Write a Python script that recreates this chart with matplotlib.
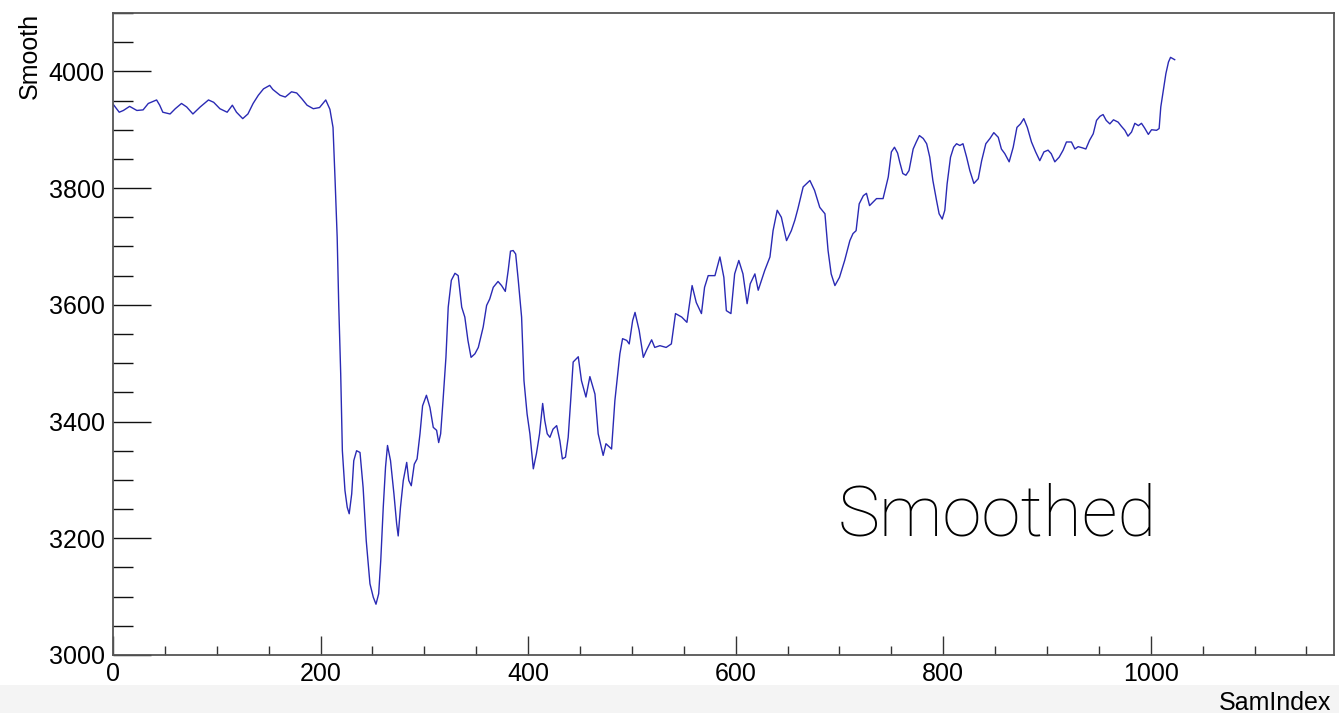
import matplotlib
matplotlib.use("Agg")
import matplotlib.pyplot as plt
from matplotlib.ticker import MultipleLocator
from matplotlib.patches import Rectangle

plt.rcParams['font.family'] = ['Liberation Sans', 'DejaVu Sans']

sam_index = [
    0, 6, 10, 16, 23, 29, 34, 42, 45, 48, 55, 60, 66, 71, 77, 84, 92, 97, 103, 110,
    115, 119, 125, 130, 135, 140, 145, 151, 154, 161, 166, 172, 177, 182, 187, 193, 199, 205, 209, 212,
    214, 216, 217.5, 219.4, 221, 223.5, 225.7, 227.6, 230, 232, 234.7, 238, 241, 244, 247.6, 250.8, 253.4, 256, 258, 260.4,
    262.6, 264.5, 267.4, 270.7, 273.3, 274.8, 277, 279.7, 283, 285, 287.4, 290.3, 293, 295.8, 298.3, 302, 305.4, 308.6, 311.8, 313.8,
    315.7, 318, 320.8, 323, 326, 329.5, 332.6, 336, 339, 342, 345, 348.7, 352, 356.7, 360, 363, 366.4, 371, 374.4, 378,
    380.8, 383, 385.6, 388, 390.5, 393.7, 396, 399, 401.7, 405, 408, 411, 414, 416, 418.4, 421, 424, 427.5, 430.6, 433,
    436, 438.6, 441, 443.4, 448.3, 451.4, 455.7, 459.5, 464.4, 467.5, 472.3, 475, 480.4, 483.6, 488.4, 491, 495, 497.4, 500.7, 503,
    507, 511, 514, 519, 522, 527, 533, 538, 542, 548, 553, 558, 562, 567, 570, 573.5, 580, 584.8, 588.6, 591,
    595.4, 599, 603, 607, 611, 614, 618.5, 621.7, 628, 633, 636, 640, 644, 649, 653.6, 657, 660, 665, 671.5, 676,
    681, 686, 689, 692, 695.6, 700, 705, 710, 713, 716, 719, 723, 726, 729, 735.7, 742, 747, 750, 753, 756,
    758, 761, 764, 767, 771, 774, 777, 780.7, 784, 787, 790, 793.5, 796, 799, 801.5, 803.7, 807, 810, 812.8, 816,
    819, 822.5, 825.6, 829.5, 833.7, 837, 841, 845, 848.7, 853, 856, 859.3, 863.5, 867.4, 871, 874.4, 877.6, 881, 885, 889,
    893, 897, 901, 904, 907.5, 911.7, 915.5, 918.7, 923.5, 926.8, 930, 934, 937.4, 941, 944.5, 947.7, 951, 954, 957, 960.5,
    964, 968.5, 971.6, 975, 978, 981.4, 984.6, 988, 991, 994, 997.6, 1000.7, 1005.5, 1008, 1009.6, 1012, 1014.5, 1017, 1019, 1023,
]
smooth = [
    3944, 3930, 3933, 3940, 3933, 3934, 3945, 3951, 3942, 3930, 3927, 3936, 3945, 3939, 3927, 3939, 3951, 3947, 3936, 3930,
    3942, 3930, 3919, 3927, 3945, 3959, 3970, 3976, 3969, 3959, 3956, 3965, 3963, 3953, 3942, 3936, 3938, 3951, 3935, 3904,
    3813, 3716, 3600, 3482, 3350, 3282, 3253, 3242, 3276, 3333, 3350, 3347, 3287, 3196, 3122, 3099, 3087, 3105, 3162, 3253,
    3322, 3359, 3333, 3276, 3225, 3204, 3253, 3299, 3330, 3299, 3290, 3327, 3336, 3379, 3427, 3445, 3424, 3390, 3385, 3364,
    3379, 3436, 3510, 3596, 3642, 3654, 3650, 3596, 3579, 3539, 3510, 3516, 3527, 3562, 3599, 3610, 3630, 3640, 3633, 3623,
    3659, 3692, 3693, 3687, 3642, 3579, 3470, 3413, 3379, 3319, 3345, 3379, 3431, 3402, 3379, 3373, 3387, 3393, 3367, 3336,
    3339, 3373, 3436, 3502, 3511, 3470, 3442, 3477, 3447, 3379, 3342, 3362, 3353, 3436, 3516, 3542, 3539, 3533, 3573, 3587,
    3556, 3510, 3522, 3540, 3527, 3530, 3527, 3533, 3585, 3579, 3570, 3633, 3604, 3585, 3630, 3650, 3650, 3682, 3647, 3590,
    3585, 3653, 3676, 3653, 3602, 3636, 3653, 3625, 3659, 3682, 3727, 3762, 3750, 3710, 3727, 3745, 3765, 3802, 3813, 3796,
    3767, 3756, 3693, 3653, 3633, 3647, 3676, 3710, 3722, 3727, 3773, 3787, 3791, 3770, 3782, 3782, 3819, 3862, 3870, 3860,
    3845, 3825, 3822, 3830, 3867, 3879, 3890, 3885, 3876, 3853, 3813, 3779, 3756, 3747, 3762, 3807, 3853, 3870, 3876, 3873,
    3876, 3853, 3830, 3808, 3816, 3847, 3876, 3885, 3895, 3887, 3867, 3859, 3845, 3870, 3904, 3910, 3919, 3904, 3879, 3862,
    3847, 3862, 3865, 3859, 3845, 3853, 3865, 3879, 3879, 3867, 3871, 3869, 3867, 3882, 3893, 3916, 3923, 3926, 3916, 3910,
    3917, 3913, 3906, 3899, 3889, 3896, 3911, 3907, 3911, 3903, 3892, 3900, 3899, 3902, 3939, 3967, 3996, 4016, 4024, 4020,
]

x_label = "SamIndex"
y_label = "Smooth"
annotation = "Smoothed"

W, H = 1339, 716
fig = plt.figure(figsize=(W / 100, H / 100), dpi=100)
fig.patch.set_facecolor('white')

# light grey band at the very bottom (screenshot strip)
fig.patches.append(Rectangle((0, 3 / H), 1, 28 / H, transform=fig.transFigure,
                             facecolor='#f4f4f4', edgecolor='none', zorder=0))

ax = fig.add_axes([113 / W, (H - 655) / H, (1334 - 113) / W, (655 - 13) / H])
ax.plot(sam_index, smooth, color='#2a2ab4', lw=1.0)

ax.set_xlim(0, 1176.5)
ax.set_ylim(3000, 4100)
ax.xaxis.set_major_locator(MultipleLocator(200))
ax.xaxis.set_minor_locator(MultipleLocator(50))
ax.yaxis.set_major_locator(MultipleLocator(200))
ax.yaxis.set_minor_locator(MultipleLocator(50))

for s in ax.spines.values():
    s.set_color('#555555')
    s.set_linewidth(1.3)

ax.tick_params(axis='x', which='major', direction='in', length=13.7, width=1.0,
               color='#333333', labelsize=18, pad=5)
ax.tick_params(axis='x', which='minor', direction='in', length=6.5, width=1.0, color='#333333')
ax.tick_params(axis='y', which='major', direction='in', length=27.4, width=1.0,
               color='#111111', labelsize=18, pad=6)
ax.tick_params(axis='y', which='minor', direction='in', length=14.4, width=1.0, color='#111111')

fig.text(30 / W, 1 - 13 / H, y_label, rotation=90, ha='center', va='top', fontsize=18)
fig.text(1331 / W, 1 - 703 / H, x_label, ha='right', va='center', fontsize=18)
fig.text(838 / W, 1 - 536 / H, annotation, ha='left', va='baseline', fontsize=51,
         family=['Roboto', 'Liberation Sans'], fontweight='light')

fig.savefig('out.png', dpi=100)
